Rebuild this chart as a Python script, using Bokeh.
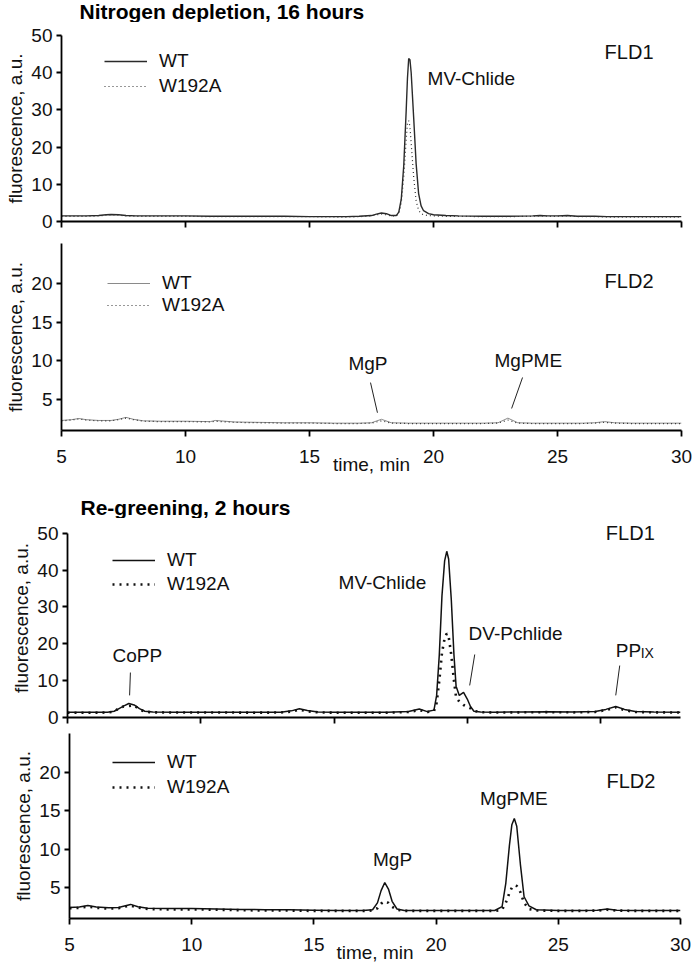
from bokeh.plotting import figure
from bokeh.models import Range1d, FixedTicker, Label, Legend, LegendItem
from bokeh.layouts import column
from bokeh.embed import file_html
from bokeh.resources import INLINE

FONT = "Liberation Sans"

# ---------------- data ----------------
# Panel 1: Nitrogen depletion, 16 h, FLD1
n1_time = [5.0, 5.5, 6.0, 6.5, 6.8, 7.0, 7.3, 7.6, 8.0, 9.0, 10.0, 11.0, 12.0, 13.0, 14.0, 15.0,
           16.0, 16.5, 17.0, 17.5, 17.7, 17.9, 18.1, 18.3, 18.5, 18.6, 18.7, 18.8, 18.9, 18.95,
           19.0, 19.05, 19.1, 19.2, 19.3, 19.4, 19.5, 19.6, 19.8, 20.0, 20.5, 21.0, 22.0, 23.0,
           24.0, 24.3, 24.6, 25.0, 25.4, 25.8, 26.5, 27.0, 28.0, 29.0, 30.0]
n1_wt = [1.5, 1.5, 1.5, 1.6, 1.8, 1.9, 1.8, 1.6, 1.5, 1.5, 1.5, 1.4, 1.4, 1.4, 1.4, 1.3,
         1.3, 1.3, 1.4, 1.6, 2.0, 2.3, 2.1, 1.6, 1.6, 2.5, 6.0, 15.0, 30.0, 38.5,
         43.8, 43.5, 40.0, 28.0, 15.5, 7.5, 4.2, 2.9, 2.1, 1.8, 1.6, 1.5, 1.4, 1.4,
         1.5, 1.6, 1.5, 1.5, 1.6, 1.4, 1.4, 1.3, 1.3, 1.3, 1.3]
n1_w192a = [1.4, 1.4, 1.4, 1.5, 1.7, 1.8, 1.7, 1.5, 1.4, 1.4, 1.4, 1.3, 1.3, 1.3, 1.3, 1.3,
            1.2, 1.2, 1.3, 1.5, 1.8, 2.0, 1.8, 1.5, 1.5, 2.2, 5.0, 12.0, 22.0, 26.5,
            27.1, 25.5, 21.0, 12.0, 5.5, 3.0, 2.1, 1.8, 1.6, 1.5, 1.4, 1.4, 1.3, 1.3,
            1.4, 1.5, 1.4, 1.4, 1.5, 1.3, 1.3, 1.2, 1.2, 1.2, 1.2]

# Panel 2: Nitrogen depletion, 16 h, FLD2
n2_time = [5.0, 5.4, 5.7, 6.0, 6.5, 7.0, 7.3, 7.6, 7.9, 8.3, 9.0, 10.0, 11.0, 11.2, 12.0, 13.0,
           14.0, 15.0, 16.0, 17.0, 17.5, 17.9, 18.3, 19.0, 20.0, 21.0, 22.0, 22.6, 23.0, 23.4,
           24.0, 25.0, 26.0, 26.5, 26.9, 27.3, 28.0, 29.0, 30.0]
n2_wt = [2.3, 2.4, 2.55, 2.4, 2.3, 2.3, 2.45, 2.7, 2.45, 2.25, 2.2, 2.2, 2.15, 2.3, 2.1, 2.05,
         2.0, 2.0, 1.95, 1.95, 2.0, 2.45, 2.0, 1.95, 1.95, 1.95, 1.95, 2.0, 2.6, 2.0,
         1.95, 1.95, 1.95, 2.0, 2.15, 2.0, 1.95, 1.95, 1.95]
n2_w192a = [2.25, 2.35, 2.5, 2.35, 2.25, 2.25, 2.4, 2.6, 2.4, 2.2, 2.15, 2.15, 2.1, 2.2, 2.05, 2.0,
            1.95, 1.95, 1.9, 1.9, 1.95, 2.25, 1.95, 1.9, 1.9, 1.9, 1.9, 1.95, 2.35, 1.95,
            1.9, 1.9, 1.9, 1.95, 2.05, 1.95, 1.9, 1.9, 1.9]

# Panel 3: Re-greening, 2 h, FLD1 (time as drawn on this panel's own axis)
r1_time = [5.0, 5.5, 6.0, 6.5, 6.75, 6.95, 7.1, 7.3, 7.5, 7.7, 7.9, 8.2, 9.0, 10.0, 11.0, 12.0,
           13.0, 13.4, 13.7, 14.0, 14.4, 15.0, 16.0, 17.0, 17.8, 18.2, 18.5, 18.75, 18.85, 18.95,
           19.05, 19.15, 19.23, 19.3, 19.4, 19.5, 19.58, 19.7, 19.86, 20.0, 20.12, 20.25, 20.5,
           21.0, 22.0, 23.0, 24.0, 24.8, 25.2, 25.57, 25.9, 26.3, 27.0, 28.0]
r1_wt = [1.4, 1.4, 1.4, 1.45, 1.7, 2.5, 3.1, 3.8, 3.4, 2.4, 1.7, 1.5, 1.45, 1.45, 1.45, 1.4,
         1.45, 1.8, 2.4, 1.9, 1.5, 1.4, 1.4, 1.4, 1.6, 2.3, 1.6, 2.0, 6.0, 17.0,
         33.0, 42.5, 45.1, 43.0, 32.0, 17.0, 8.5, 6.0, 6.8, 5.0, 3.0, 1.7, 1.5,
         1.45, 1.5, 1.55, 1.5, 1.6, 2.2, 3.0, 2.2, 1.6, 1.5, 1.45]
r1_w192a = [1.3, 1.3, 1.3, 1.35, 1.6, 2.6, 3.0, 3.1, 3.3, 2.2, 1.6, 1.4, 1.35, 1.35, 1.35, 1.3,
            1.35, 1.6, 2.1, 1.7, 1.4, 1.3, 1.3, 1.3, 1.5, 2.0, 1.5, 1.7, 4.0, 10.0,
            17.5, 21.5, 22.8, 22.0, 17.0, 10.0, 5.5, 4.3, 3.4, 2.9, 2.5, 1.8, 1.45,
            1.35, 1.4, 1.45, 1.4, 1.5, 2.0, 2.8, 2.0, 1.5, 1.4, 1.35]

# Panel 4: Re-greening, 2 h, FLD2
r2_time = [5.0, 5.4, 5.75, 6.1, 6.6, 7.0, 7.25, 7.5, 7.8, 8.2, 9.0, 10.0, 11.0, 12.0, 13.0, 14.0,
           15.0, 16.0, 17.0, 17.4, 17.6, 17.75, 17.9, 18.05, 18.2, 18.4, 18.7, 19.5, 20.5, 21.5,
           22.4, 22.7, 22.85, 23.0, 23.1, 23.2, 23.3, 23.45, 23.6, 23.8, 24.1, 25.0, 26.0, 26.6,
           27.0, 27.4, 28.0, 29.0, 30.0]
r2_wt = [2.4, 2.45, 2.65, 2.45, 2.35, 2.4, 2.6, 2.8, 2.5, 2.3, 2.25, 2.25, 2.2, 2.15, 2.1, 2.1,
         2.05, 2.0, 2.0, 2.1, 3.0, 4.6, 5.65, 4.8, 3.2, 2.2, 2.0, 2.0, 2.0, 2.0,
         2.0, 2.5, 5.5, 10.5, 13.2, 14.0, 13.0, 8.0, 3.8, 2.6, 2.1, 2.0, 2.0, 2.05,
         2.2, 2.05, 2.0, 2.0, 2.0]
r2_w192a = [2.3, 2.35, 2.5, 2.35, 2.25, 2.3, 2.5, 2.65, 2.4, 2.2, 2.15, 2.15, 2.1, 2.05, 2.0, 2.0,
            1.95, 1.95, 1.95, 2.0, 2.3, 2.9, 3.2, 3.0, 2.5, 2.1, 1.95, 1.95, 1.95, 1.95,
            1.95, 2.1, 3.0, 4.3, 5.0, 5.3, 5.2, 4.4, 3.0, 2.2, 2.0, 1.95, 1.95, 2.0,
            2.1, 2.0, 1.95, 1.95, 1.95]

x_ticks = [5, 10, 15, 20, 25, 30]
y_ticks_fld1 = [0, 10, 20, 30, 40, 50]
y_ticks_fld2 = [5, 10, 15, 20]
series_names = ["WT", "W192A"]
titles = ["Nitrogen depletion, 16 hours", "Re-greening, 2 hours"]

# ---------------- helpers ----------------
W = 693
FS = "19px"


def make_fig(height, left, right, top, bottom, xr, yr, yticks, xlabels, ybounds=None):
    p = figure(width=W, height=height, x_range=Range1d(*xr), y_range=Range1d(*yr),
               output_backend="svg", toolbar_location=None, title=None,
               min_border_left=left, min_border_right=right,
               min_border_top=top, min_border_bottom=bottom)
    p.frame_align = False
    p.outline_line_color = None
    p.grid.visible = False
    p.background_fill_color = "white"
    p.border_fill_color = "white"
    for ax in (p.xaxis[0], p.yaxis[0]):
        ax.axis_line_color = "#000000"
        ax.axis_line_width = 1.8
        ax.major_tick_line_color = "#000000"
        ax.major_tick_line_width = 1.8
        ax.minor_tick_line_color = "#000000"
        ax.minor_tick_line_width = 1.8
        ax.major_tick_in = 0
        ax.minor_tick_in = 0
        ax.minor_tick_out = 0
        ax.major_label_text_font = FONT
        ax.major_label_text_color = "#111111"
        ax.axis_label_text_font = FONT
        ax.axis_label_text_font_style = "normal"
        ax.axis_label_text_color = "#111111"
    p.yaxis.ticker = FixedTicker(ticks=yticks)
    if ybounds is not None:
        p.yaxis.bounds = ybounds
    p.yaxis.major_tick_out = 5
    p.yaxis.major_label_standoff = 4
    p.yaxis.major_label_text_font_size = FS
    p.yaxis.axis_label = "fluorescence, a.u."
    p.yaxis.axis_label_text_font_size = FS
    p.yaxis.axis_label_standoff = 2
    if xlabels:
        p.xaxis.ticker = FixedTicker(ticks=x_ticks)
        p.xaxis.major_tick_out = 6
        p.xaxis.major_label_text_font_size = FS
        p.xaxis.major_label_standoff = 13
        p.xaxis.axis_label = "time, min"
        p.xaxis.axis_label_text_font_size = FS
        p.xaxis.axis_label_standoff = -12
    else:
        # tick marks only, no labels
        p.xaxis.ticker = FixedTicker(ticks=[], minor_ticks=x_ticks)
        p.xaxis.minor_tick_out = 6
        p.xaxis.major_tick_out = 0
    return p


def title_fig(text, height, x_px, y_center_from_top):
    t = figure(width=W, height=height, x_range=Range1d(0, W), y_range=Range1d(0, height),
               output_backend="svg", toolbar_location=None, title=None,
               x_axis_location=None, y_axis_location=None, min_border=0)
    t.frame_align = False
    t.outline_line_color = None
    t.grid.visible = False
    t.add_layout(Label(x=x_px, y=height - y_center_from_top, text=text, text_font=FONT,
                       text_font_size="21px", text_font_style="bold", text_color="#000000",
                       text_baseline="middle", text_align="left"))
    return t


def add_series(p, t, wt, mut, wt_color, wt_width, mut_color, mut_width, mut_dash, loc, spacing):
    r1 = p.line(t, wt, line_color=wt_color, line_width=wt_width)
    r2 = p.line(t, mut, line_color=mut_color, line_width=mut_width, line_dash=mut_dash)
    lg = Legend(items=[LegendItem(label=series_names[0], renderers=[r1]),
                       LegendItem(label=series_names[1], renderers=[r2])],
                location=loc, margin=0, padding=0, spacing=spacing,
                glyph_width=43, glyph_height=20, label_height=20, label_standoff=12,
                label_text_font=FONT, label_text_font_size=FS, label_text_color="#111111",
                border_line_color=None, background_fill_alpha=0)
    p.add_layout(lg)


def note(p, x, y, text, size=FS, x_offset=0):
    p.add_layout(Label(x=x, y=y, text=text, text_font=FONT, text_font_size=size,
                       text_color="#111111", text_baseline="middle", text_align="left",
                       x_offset=x_offset))


def leader(p, x0, y0, x1, y1):
    p.segment(x0=[x0], y0=[y0], x1=[x1], y1=[y1], line_color="#222222", line_width=1)


# ---------------- title 1 ----------------
t1 = title_fig(titles[0], 22, 79, 10.5)

# ---------------- panel 1 ----------------
p1 = make_fig(210, 61, 12, 13, 11, (5, 30), (0, 50), y_ticks_fld1, False)
add_series(p1, n1_time, n1_wt, n1_w192a, "#2a2a2a", 1.4, "#333333", 1.2, "1 3", (43, 124), 3)
note(p1, 19.76, 38.4, "MV-Chlide")
note(p1, 26.9, 45.5, "FLD1", size="20px")

# ---------------- panel 2 ----------------
p2 = make_fig(264, 61, 12, 11, 66, (5, 30), (1.0, 25.2), y_ticks_fld2, True)
add_series(p2, n2_time, n2_wt, n2_w192a, "#8a8a8a", 1.0, "#333333", 1.2, "1 3", (46, 114), 0)
note(p2, 26.9, 20.4, "FLD2", size="20px")
note(p2, 16.57, 9.67, "MgP")
leader(p2, 17.46, 7.2, 17.74, 3.3)
note(p2, 22.46, 10.06, "MgPME")
leader(p2, 23.59, 7.86, 23.15, 3.85)

# ---------------- title 2 ----------------
t2 = title_fig(titles[1], 22, 80, 11)

# ---------------- panel 3 ----------------
p3 = make_fig(209, 67, 13, 0, 10, (5, 28), (0, 54), y_ticks_fld1, False, ybounds=(0, 50))
add_series(p3, r1_time, r1_wt, r1_w192a, "#111111", 1.5, "#111111", 2.6, "2 5", (45, 122), 2)
note(p3, 25.2, 50.0, "FLD1", size="20px")
note(p3, 15.17, 36.7, "MV-Chlide")
note(p3, 20.05, 22.8, "DV-Pchlide")
leader(p3, 20.28, 17.1, 20.09, 8.7)
note(p3, 25.57, 18.2, "PP")
note(p3, 25.57, 17.6, "IX", size="14px", x_offset=25)
leader(p3, 25.72, 14.1, 25.57, 6.0)
note(p3, 6.69, 16.8, "CoPP")
leader(p3, 7.36, 12.2, 7.33, 6.0)

# ---------------- panel 4 ----------------
p4 = make_fig(241, 69, 13, 6, 50, (5, 30), (0.96, 25.1), y_ticks_fld2, True)
add_series(p4, r2_time, r2_wt, r2_w192a, "#111111", 1.5, "#111111", 2.6, "2 5", (43, 120), 3)
note(p4, 26.97, 18.95, "FLD2", size="20px")
note(p4, 21.8, 16.6, "MgPME")
note(p4, 17.42, 8.65, "MgP")

layout = column(t1, p1, p2, t2, p3, p4, spacing=0)
open("out.html", "w").write(file_html(layout, INLINE))
